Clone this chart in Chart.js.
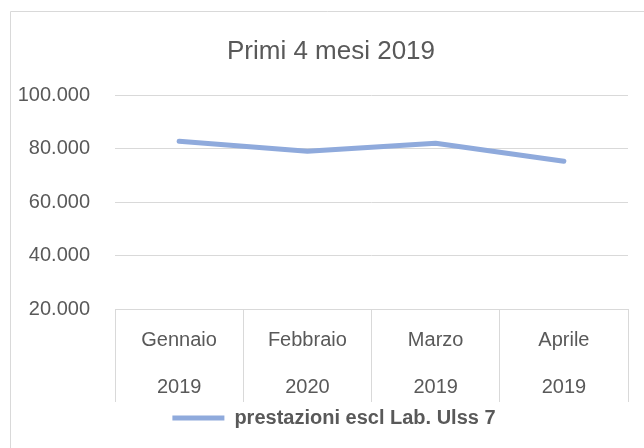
<!DOCTYPE html>
<html>
<head>
<meta charset="utf-8">
<title>Primi 4 mesi 2019</title>
<script src="https://cdn.jsdelivr.net/npm/chart.js@4/dist/chart.umd.min.js"></script>
<style>
    html, body { margin: 0; padding: 0; background: #fff; }
    canvas { display: block; }
</style>
</head>
<body>
<canvas id="mesiChart" width="644" height="448"></canvas>
<script>
// Data
const mesi = ['Gennaio', 'Febbraio', 'Marzo', 'Aprile'];
const anni = ['2019', '2020', '2019', '2019'];
const prestazioni = [82800, 79000, 82000, 75300];
const yTicks = [20000, 40000, 60000, 80000, 100000];

const textColor = '#595959';
const gridColor = '#d9d9d9';
const lineColor = '#8FAADC';
const fontFamily = '"Liberation Sans", Arial, sans-serif';

// thousands with a dot, e.g. 100.000
function formatNumber(v) {
    return String(v).replace(/\B(?=(\d{3})+(?!\d))/g, '.');
}

// light frame on the left and top, like the cropped chart border
const framePlugin = {
    id: 'frame',
    afterLayout(chart) {
        // title and legend sit a bit right of the canvas centre
        chart.titleBlock.left = 34;
        chart.legend.left = 40;
    },
    beforeDraw(chart) {
        const ctx = chart.ctx;
        ctx.save();
        ctx.strokeStyle = gridColor;
        ctx.lineWidth = 1;
        ctx.beginPath();
        ctx.moveTo(10.5, chart.height);
        ctx.lineTo(10.5, 11.5);
        ctx.lineTo(chart.width, 11.5);
        ctx.stroke();
        ctx.restore();
    }
};

new Chart(document.getElementById('mesiChart'), {
    type: 'line',
    data: {
        labels: mesi.map((m, i) => [m, anni[i]]),
        datasets: [{
            label: 'prestazioni escl Lab. Ulss 7',
            data: prestazioni,
            borderColor: lineColor,
            backgroundColor: lineColor,
            borderWidth: 5,
            borderCapStyle: 'round',
            borderJoinStyle: 'round',
            pointRadius: 0,
            pointHoverRadius: 0,
            tension: 0,
            fill: false
        }]
    },
    options: {
        responsive: false,
        animation: false,
        layout: {
            padding: { left: 12, right: 16, top: 0, bottom: 10 }
        },
        plugins: {
            title: {
                display: true,
                text: 'Primi 4 mesi 2019',
                color: textColor,
                font: { family: fontFamily, size: 26, weight: 'normal', lineHeight: 1.2 },
                padding: { top: 36, bottom: 28 }
            },
            legend: {
                position: 'bottom',
                labels: {
                    usePointStyle: true,
                    pointStyle: 'line',
                    pointStyleWidth: 52,
                    padding: 10,
                    color: textColor,
                    font: { family: fontFamily, size: 20, weight: 'bold' }
                }
            },
            tooltip: { enabled: false }
        },
        scales: {
            x: {
                offset: true,
                grid: {
                    offset: true,
                    drawOnChartArea: false,
                    drawTicks: true,
                    tickLength: 93,
                    color: gridColor
                },
                border: { display: true, color: gridColor },
                ticks: {
                    color: textColor,
                    padding: -85.5,
                    maxRotation: 0,
                    font: { family: fontFamily, size: 20, lineHeight: '47px' }
                },
                afterFit: function(scale) {
                    scale.height = 89;
                }
            },
            y: {
                min: 20000,
                max: 100000,
                afterBuildTicks: function(scale) {
                    scale.ticks = yTicks.map(v => ({ value: v }));
                },
                grid: {
                    color: gridColor,
                    drawTicks: false
                },
                border: { display: false },
                ticks: {
                    color: textColor,
                    padding: 25,
                    font: { family: fontFamily, size: 20 },
                    callback: function(value) {
                        return formatNumber(value);
                    }
                },
                afterFit: function(scale) {
                    scale.width = 103;
                }
            }
        }
    },
    plugins: [framePlugin]
});
</script>
</body>
</html>
